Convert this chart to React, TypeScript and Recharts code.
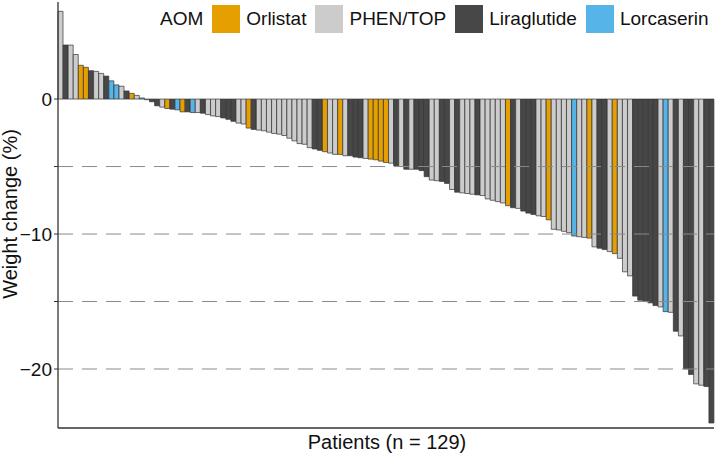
import { BarChart, Bar, Cell, XAxis, YAxis, ReferenceLine } from "recharts";

const WEIGHT_CHANGE = [
  6.5, 4.0, 4.0, 3.3, 2.5, 2.35, 2.1, 2.05, 1.9, 1.7,
  1.35, 1.05, 0.95, 0.6, 0.42, 0.27, 0.08, -0.05, -0.2, -0.5,
  -0.6, -0.7, -0.75, -0.8, -0.95, -0.95, -1.0, -1.0, -1.05, -1.15,
  -1.25, -1.3, -1.4, -1.5, -1.65, -1.78, -1.85, -2.15, -2.25, -2.3,
  -2.35, -2.45, -2.55, -2.6, -2.7, -2.9, -3.1, -3.3, -3.35, -3.6,
  -3.7, -3.8, -3.9, -4.0, -4.1, -4.1, -4.2, -4.2, -4.3, -4.35,
  -4.4, -4.45, -4.5, -4.6, -4.7, -4.75, -4.95, -5.0, -5.2, -5.2,
  -5.2, -5.3, -5.75, -6.0, -6.05, -6.1, -6.25, -6.7, -6.9, -6.95,
  -7.0, -7.05, -7.1, -7.15, -7.4, -7.5, -7.6, -7.7, -7.9, -8.05,
  -8.1, -8.3, -8.45, -8.55, -8.65, -8.7, -8.95, -9.65, -9.7, -9.8,
  -9.9, -10.15, -10.2, -10.25, -10.3, -10.95, -11.05, -11.15, -11.3, -11.45,
  -11.8, -12.8, -13.1, -14.6, -14.9, -15.0, -15.1, -15.3, -15.4, -15.75,
  -15.8, -17.2, -17.55, -20.0, -20.4, -21.1, -21.2, -21.3, -24.0,
];

// O = Orlistat, P = PHEN/TOP, L = Liraglutide, C = Lorcaserin
const AOM_GROUP = [
  "P", "L", "P", "P", "O", "O", "L", "P", "P", "L",
  "C", "C", "P", "L", "O", "P", "C", "P", "L", "L",
  "P", "O", "L", "C", "O", "L", "C", "P", "L", "P",
  "P", "P", "L", "L", "L", "P", "P", "O", "L", "P",
  "P", "P", "P", "P", "P", "P", "P", "P", "P", "P",
  "L", "L", "O", "P", "P", "O", "P", "L", "L", "L",
  "P", "O", "O", "O", "O", "P", "L", "P", "L", "P",
  "L", "L", "L", "P", "P", "L", "L", "P", "L", "P",
  "P", "P", "L", "P", "P", "P", "P", "P", "O", "L",
  "P", "L", "L", "L", "P", "P", "O", "P", "P", "P",
  "P", "C", "P", "P", "O", "P", "L", "L", "P", "O",
  "P", "P", "P", "L", "L", "L", "L", "L", "P", "C",
  "P", "L", "P", "L", "L", "P", "P", "L", "L",
];

const AOM_KEYS = ["O", "P", "L", "C"];
const AOM_LABELS = ["Orlistat", "PHEN/TOP", "Liraglutide", "Lorcaserin"];
const AOM_COLORS: Record<string, string> = {
  O: "#E69F00",
  P: "#CCCCCC",
  L: "#474747",
  C: "#56B4E9",
};

const Y_TICKS = [-20, -15, -10, -5, 0];
const GRID_LINES = [-5, -10, -15, -20];

const FONT = "'Liberation Sans', Arial, sans-serif";

const chartData = WEIGHT_CHANGE.map((v, i) => ({ id: i + 1, change: v, group: AOM_GROUP[i] }));

function AomLegend() {
  return (
    <div
      style={{
        position: "absolute",
        left: 160,
        top: 5,
        display: "flex",
        alignItems: "center",
        fontFamily: FONT,
        fontSize: 19,
        color: "#111",
        whiteSpace: "nowrap",
      }}
    >
      <span style={{ marginRight: 9 }}>AOM</span>
      {AOM_KEYS.map((k, i) => (
        <span key={k} style={{ display: "flex", alignItems: "center", marginRight: 9 }}>
          <span style={{ width: 28, height: 28, background: AOM_COLORS[k], display: "inline-block", marginRight: 6 }} />
          <span>{AOM_LABELS[i]}</span>
        </span>
      ))}
    </div>
  );
}

export default function App() {
  return (
    <div style={{ position: "absolute", left: 0, top: 0, width: 720, height: 455, background: "#fff" }}>
      <BarChart
        width={720}
        height={455}
        data={chartData}
        margin={{ top: 2, right: 6, left: 0, bottom: 0 }}
        barCategoryGap={0}
      >
        <XAxis
          dataKey="id"
          tick={false}
          tickLine={false}
          height={27}
          axisLine={{ stroke: "#333", strokeWidth: 1.3 }}
          label={{
            content: () => (
              <text x={387} y={449} textAnchor="middle" fill="#111" fontSize={20} fontFamily={FONT}>
                Patients (n = 129)
              </text>
            ),
          }}
        />
        <YAxis
          type="number"
          domain={[-24.37, 7.19]}
          ticks={Y_TICKS}
          width={58}
          allowDataOverflow
          interval={0}
          tickSize={4}
          tickLine={{ stroke: "#333" }}
          axisLine={{ stroke: "#333", strokeWidth: 1.3 }}
          tick={{ fill: "#111", fontSize: 19, fontFamily: FONT }}
          tickFormatter={(v: number) => (v % 10 === 0 ? (v < 0 ? `\u2212${Math.abs(v)}` : `${v}`) : "")}
          label={{
            content: () => (
              <text
                x={17}
                y={214}
                transform="rotate(-90 17 214)"
                textAnchor="middle"
                fill="#111"
                fontSize={20}
                fontFamily={FONT}
              >
                Weight change (%)
              </text>
            ),
          }}
        />
        <Bar dataKey="change" isAnimationActive={false} stroke="#333" strokeWidth={0.7}>
          {chartData.map((d) => (
            <Cell key={d.id} fill={AOM_COLORS[d.group]} />
          ))}
        </Bar>
        {GRID_LINES.map((y) => (
          <ReferenceLine key={y} y={y} stroke="#8a8a8a" strokeDasharray="15 9" strokeWidth={1} />
        ))}
      </BarChart>
      <AomLegend />
    </div>
  );
}
